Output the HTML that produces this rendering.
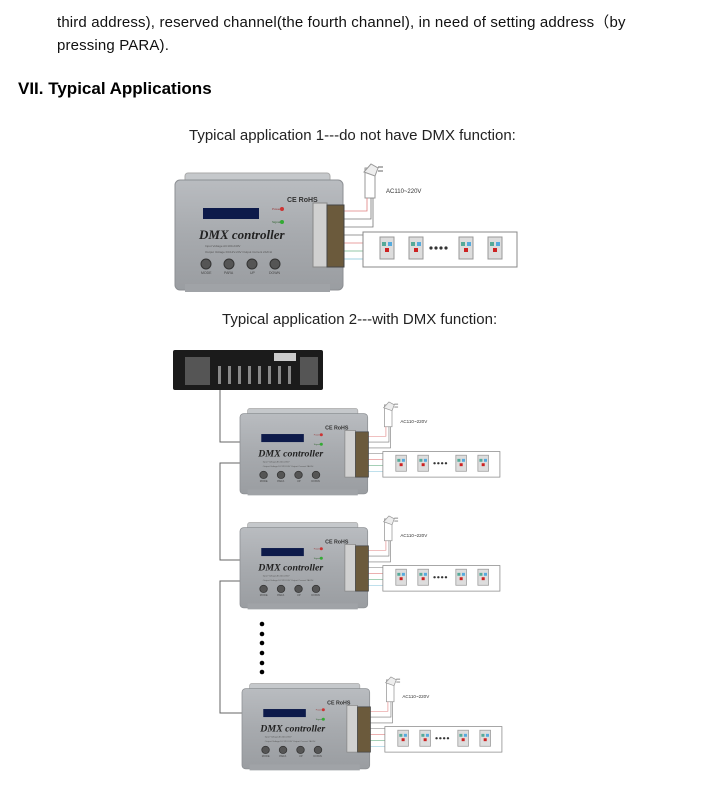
<!DOCTYPE html>
<html><head><meta charset="utf-8"><style>
body{margin:0;background:#fff;width:714px;height:794px;overflow:hidden;font-family:"Liberation Sans",Arial,sans-serif;}
.p{position:absolute;left:57px;font-size:15px;color:#111;letter-spacing:0.15px}
</style></head><body>
<div class="p" style="top:11px">third address), reserved channel(the fourth channel), in need of setting address（by</div>
<div class="p" style="top:37px">pressing PARA).</div>
<div style="position:absolute;left:18px;top:79px;font-size:17px;font-weight:bold;color:#000">VII. Typical Applications</div>
<div style="position:absolute;left:189px;top:127px;font-size:15px;color:#222">Typical application 1---do not have DMX function:</div>
<div style="position:absolute;left:222px;top:311px;font-size:15px;color:#222">Typical application 2---with DMX function:</div>
<svg width="714" height="794" style="position:absolute;left:0;top:0">
<defs>
<linearGradient id="gb" x1="0" y1="0" x2="0" y2="1"><stop offset="0" stop-color="#b9bcc0"/><stop offset="0.5" stop-color="#a7aaae"/><stop offset="1" stop-color="#9a9da1"/></linearGradient>
<g id="led">
 <rect x="0" y="0" width="14" height="22" fill="#ddd" stroke="#999"/>
 <rect x="2" y="5" width="4" height="4" fill="#5a9"/><rect x="8" y="5" width="4" height="4" fill="#5ad"/>
 <rect x="5" y="11" width="4" height="4" fill="#c22"/>
</g>
<g id="ctl">
 <rect x="190" y="8" width="10" height="30" fill="#fff" stroke="#999"/>
 <path d="M189 12 L196 4 L203 8 L200 16 Z" fill="#eee" stroke="#999"/>
 <line x1="203" y1="7" x2="208" y2="7" stroke="#666"/><line x1="203" y1="11" x2="208" y2="11" stroke="#666"/>
 <text x="211" y="33" font-size="6" fill="#333">AC110~220V</text>
 <polyline points="168,51 192,51 192,38" fill="none" stroke="#e08080" stroke-width="0.8"/>
 <polyline points="168,59 196,59 196,38" fill="none" stroke="#777" stroke-width="0.8"/>
 <polyline points="168,67 198,67 198,38" fill="none" stroke="#777" stroke-width="0.8"/>
 <line x1="168" y1="75" x2="190" y2="75" stroke="#777" stroke-width="0.8"/>
 <line x1="168" y1="83" x2="190" y2="83" stroke="#e08080" stroke-width="0.8"/>
 <line x1="168" y1="91" x2="190" y2="91" stroke="#6fb58a" stroke-width="0.8"/>
 <line x1="168" y1="99" x2="190" y2="99" stroke="#7fc0d8" stroke-width="0.8"/>
 <rect x="10" y="13" width="145" height="12" rx="3" fill="#c5c8cb" stroke="#aaa"/>
 <rect x="0" y="20" width="168" height="110" rx="5" fill="url(#gb)" stroke="#8c8f93"/>
 <rect x="10" y="124" width="145" height="8" fill="#a0a3a7"/>
 <rect x="28" y="48" width="56" height="11" fill="#0d1a4a"/>
 <text x="97" y="50" font-size="3" fill="#933">Power</text><circle cx="107" cy="49" r="2" fill="#c33"/>
 <text x="97" y="63" font-size="3" fill="#363">Signal</text><circle cx="107" cy="62" r="2" fill="#3a3"/>
 <text x="112" y="42" font-size="7" fill="#333" font-weight="bold">CE RoHS</text>
 <text x="24" y="79" font-size="13" font-family="Liberation Serif,serif" font-style="italic" font-weight="bold" fill="#222">DMX controller</text>
 <text x="30" y="87" font-size="3" fill="#555">Input Voltage AC100-240V</text>
 <text x="30" y="93" font-size="3" fill="#555">Output Voltage DC12V-24V Output Current 2A/CH</text>
 <g fill="#555" stroke="#333"><circle cx="31" cy="104" r="5"/><circle cx="54" cy="104" r="5"/><circle cx="77" cy="104" r="5"/><circle cx="100" cy="104" r="5"/></g>
 <g font-size="3.5" fill="#444"><text x="26" y="114">MODE</text><text x="49" y="114">PARA</text><text x="75" y="114">UP</text><text x="94" y="114">DOWN</text></g>
 <rect x="138" y="43" width="14" height="64" fill="#d0d0d0" stroke="#888"/>
 <rect x="152" y="45" width="17" height="62" fill="#6b5a3c" stroke="#444"/>
 <rect x="188" y="72" width="154" height="35" fill="#fff" stroke="#888"/>
 <use href="#led" x="205" y="77"/><use href="#led" x="234" y="77"/><use href="#led" x="284" y="77"/><use href="#led" x="313" y="77"/>
 <g fill="#333"><circle cx="256" cy="88" r="1.6"/><circle cx="261" cy="88" r="1.6"/><circle cx="266" cy="88" r="1.6"/><circle cx="271" cy="88" r="1.6"/></g>
</g>
</defs>
<use href="#ctl" transform="translate(175,160)"/>
<rect x="173" y="350" width="150" height="40" rx="2" fill="#1b1b1b"/>
<g fill="#888">
<rect x="218" y="366" width="3" height="18"/><rect x="228" y="366" width="3" height="18"/><rect x="238" y="366" width="3" height="18"/><rect x="248" y="366" width="3" height="18"/><rect x="258" y="366" width="3" height="18"/><rect x="268" y="366" width="3" height="18"/><rect x="278" y="366" width="3" height="18"/><rect x="288" y="366" width="3" height="18"/>
<rect x="185" y="357" width="25" height="28" fill="#555"/><rect x="300" y="357" width="18" height="28" fill="#555"/>
</g>
<rect x="274" y="353" width="22" height="8" fill="#ccc"/>
<polyline points="220,390 220,442 242,442" fill="none" stroke="#666"/>
<polyline points="241,463 220,463 220,560 242,560" fill="none" stroke="#666"/>
<polyline points="241,581 220,581 220,713 243,713" fill="none" stroke="#666"/>
<use href="#ctl" transform="translate(240,399) scale(0.76,0.73)"/>
<use href="#ctl" transform="translate(240,513) scale(0.76,0.73)"/>
<use href="#ctl" transform="translate(242,674) scale(0.76,0.73)"/>
<g fill="#000"><circle cx="262" cy="624" r="2.3"/><circle cx="262" cy="634" r="2.3"/><circle cx="262" cy="643" r="2.3"/><circle cx="262" cy="653" r="2.3"/><circle cx="262" cy="663" r="2.3"/><circle cx="262" cy="672" r="2.3"/></g>
</svg>
</body></html>
